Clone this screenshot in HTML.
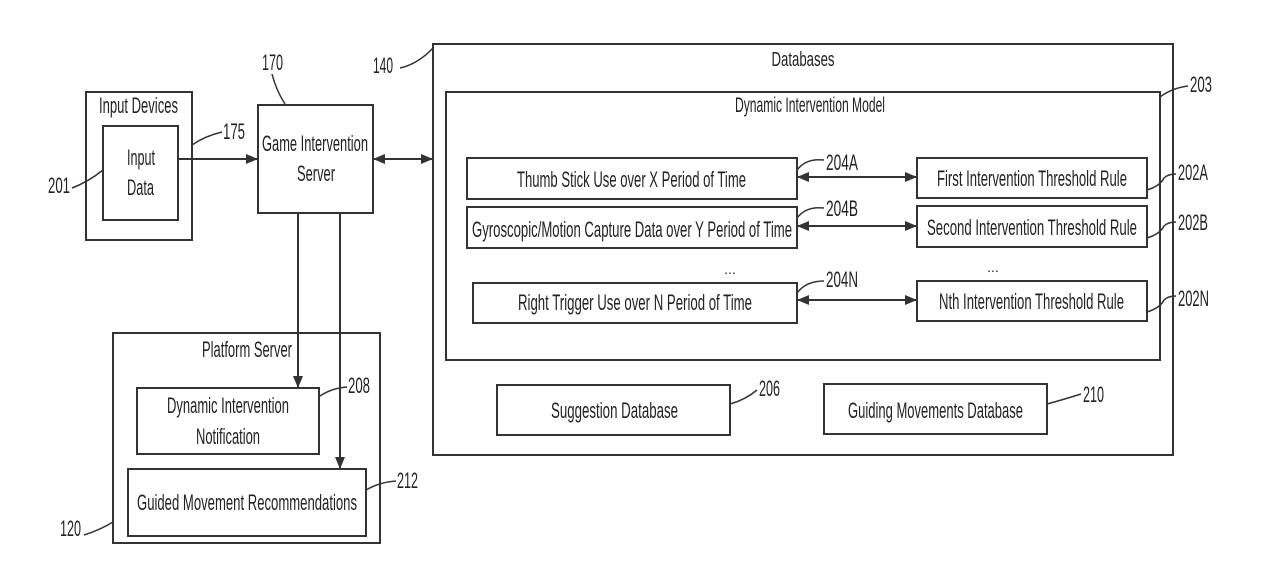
<!DOCTYPE html>
<html><head><meta charset="utf-8"><style>
html,body{margin:0;padding:0;background:#fff;}
svg text{font-family:"Liberation Sans",sans-serif;font-size:22px;fill:#222;}
</style></head><body>
<svg width="1261" height="578" viewBox="0 0 1261 578" xmlns="http://www.w3.org/2000/svg">
<defs>
<marker id="a" markerWidth="12" markerHeight="10" refX="11" refY="5" orient="auto-start-reverse" markerUnits="userSpaceOnUse">
<path d="M0,0 L12,5 L0,10 Z" fill="#333"/></marker>
</defs>
<g fill="none" stroke="#333" stroke-width="2">
<rect x="86" y="92" width="106" height="148"/>
<rect x="103" y="126" width="75" height="94"/>
<rect x="258" y="105" width="115" height="108"/>
<rect x="433" y="44" width="740" height="411"/>
<rect x="446" y="92" width="714" height="268"/>
<rect x="467" y="158" width="330" height="41"/>
<rect x="467" y="207" width="330" height="41"/>
<rect x="473" y="283" width="324" height="40"/>
<rect x="917" y="158" width="230" height="40"/>
<rect x="917" y="206" width="230" height="41"/>
<rect x="917" y="281" width="230" height="40"/>
<rect x="497" y="385" width="233" height="50"/>
<rect x="824" y="384" width="223" height="50"/>
<rect x="113" y="333" width="267" height="210"/>
<rect x="137" y="388" width="182" height="66"/>
<rect x="128" y="469" width="238" height="67"/>
<line x1="178" y1="159" x2="257" y2="159" marker-end="url(#a)"/>
<line x1="374" y1="159" x2="432" y2="159" marker-start="url(#a)" marker-end="url(#a)"/>
<line x1="798" y1="177" x2="916" y2="177" marker-start="url(#a)" marker-end="url(#a)"/>
<line x1="798" y1="226" x2="916" y2="226" marker-start="url(#a)" marker-end="url(#a)"/>
<line x1="798" y1="300" x2="916" y2="300" marker-start="url(#a)" marker-end="url(#a)"/>
<line x1="298" y1="213" x2="298" y2="387" marker-end="url(#a)"/>
<line x1="340" y1="213" x2="340" y2="468" marker-end="url(#a)"/>
</g>
<g fill="none" stroke="#333" stroke-width="1.5">
<path d="M272,74 Q276,90 285,104"/>
<path d="M400,68 Q418,64 433,48"/>
<path d="M192,145 Q205,136 222,132"/>
<path d="M72,188 Q88,182 103,170"/>
<path d="M1160,97 Q1172,88 1188,86"/>
<path d="M1147,190 Q1160,186 1164,178 Q1168,174 1176,174"/>
<path d="M1147,238 Q1160,234 1164,226 Q1168,222 1176,222"/>
<path d="M1147,312 Q1160,308 1164,300 Q1168,296 1176,296"/>
<path d="M797,170 Q806,158 824,160"/>
<path d="M797,218 Q806,206 824,208"/>
<path d="M797,293 Q806,281 824,281"/>
<path d="M320,396 Q332,388 347,387"/>
<path d="M366,490 Q380,482 396,481"/>
<path d="M84,535 Q100,530 113,522"/>
<path d="M730,404 Q745,400 757,390"/>
<path d="M1047,404 Q1062,400 1081,394"/>
</g>
<g text-anchor="middle">
<text x="138.5" y="113" textLength="79" lengthAdjust="spacingAndGlyphs">Input Devices</text>
<text x="141" y="165" textLength="28" lengthAdjust="spacingAndGlyphs">Input</text>
<text x="140.5" y="195" textLength="27" lengthAdjust="spacingAndGlyphs">Data</text>
<text x="315" y="151" textLength="106" lengthAdjust="spacingAndGlyphs">Game Intervention</text>
<text x="316" y="181" textLength="38" lengthAdjust="spacingAndGlyphs">Server</text>
<text x="803" y="66" style="font-size:20px" textLength="63" lengthAdjust="spacingAndGlyphs">Databases</text>
<text x="810" y="112" style="font-size:21px" textLength="150" lengthAdjust="spacingAndGlyphs">Dynamic Intervention Model</text>
<text x="631.5" y="187" textLength="229" lengthAdjust="spacingAndGlyphs">Thumb Stick Use over X Period of Time</text>
<text x="632" y="237" textLength="320" lengthAdjust="spacingAndGlyphs">Gyroscopic/Motion Capture Data over Y Period of Time</text>
<text x="635" y="310" textLength="234" lengthAdjust="spacingAndGlyphs">Right Trigger Use over N Period of Time</text>
<text x="1032" y="186" textLength="190" lengthAdjust="spacingAndGlyphs">First Intervention Threshold Rule</text>
<text x="1032" y="235" textLength="210" lengthAdjust="spacingAndGlyphs">Second Intervention Threshold Rule</text>
<text x="1031.5" y="309" textLength="185" lengthAdjust="spacingAndGlyphs">Nth Intervention Threshold Rule</text>
<text x="730" y="274" style="font-size:14px">...</text>
<text x="993" y="272" style="font-size:14px">...</text>
<text x="614.5" y="418" textLength="127" lengthAdjust="spacingAndGlyphs">Suggestion Database</text>
<text x="935.5" y="418" textLength="175" lengthAdjust="spacingAndGlyphs">Guiding Movements Database</text>
<text x="247" y="357" textLength="90" lengthAdjust="spacingAndGlyphs">Platform Server</text>
<text x="228" y="413" textLength="122" lengthAdjust="spacingAndGlyphs">Dynamic Intervention</text>
<text x="228" y="444" textLength="64" lengthAdjust="spacingAndGlyphs">Notification</text>
<text x="247" y="510" textLength="220" lengthAdjust="spacingAndGlyphs">Guided Movement Recommendations</text>
</g>
<g>
<text x="262" y="70" textLength="21" lengthAdjust="spacingAndGlyphs">170</text>
<text x="373" y="73" textLength="20" lengthAdjust="spacingAndGlyphs">140</text>
<text x="223" y="139" textLength="22" lengthAdjust="spacingAndGlyphs">175</text>
<text x="48" y="193" textLength="22" lengthAdjust="spacingAndGlyphs">201</text>
<text x="1190" y="92" textLength="22" lengthAdjust="spacingAndGlyphs">203</text>
<text x="1178" y="180" textLength="30" lengthAdjust="spacingAndGlyphs">202A</text>
<text x="1178" y="230" textLength="30" lengthAdjust="spacingAndGlyphs">202B</text>
<text x="1178" y="306" textLength="31" lengthAdjust="spacingAndGlyphs">202N</text>
<text x="826" y="170" textLength="32" lengthAdjust="spacingAndGlyphs">204A</text>
<text x="826" y="216" textLength="32" lengthAdjust="spacingAndGlyphs">204B</text>
<text x="826" y="287" textLength="32" lengthAdjust="spacingAndGlyphs">204N</text>
<text x="348" y="393" textLength="22" lengthAdjust="spacingAndGlyphs">208</text>
<text x="397" y="488" textLength="21" lengthAdjust="spacingAndGlyphs">212</text>
<text x="60" y="536" textLength="21" lengthAdjust="spacingAndGlyphs">120</text>
<text x="759" y="396" textLength="21" lengthAdjust="spacingAndGlyphs">206</text>
<text x="1083" y="402" textLength="21" lengthAdjust="spacingAndGlyphs">210</text>
</g>
</svg>
</body></html>
